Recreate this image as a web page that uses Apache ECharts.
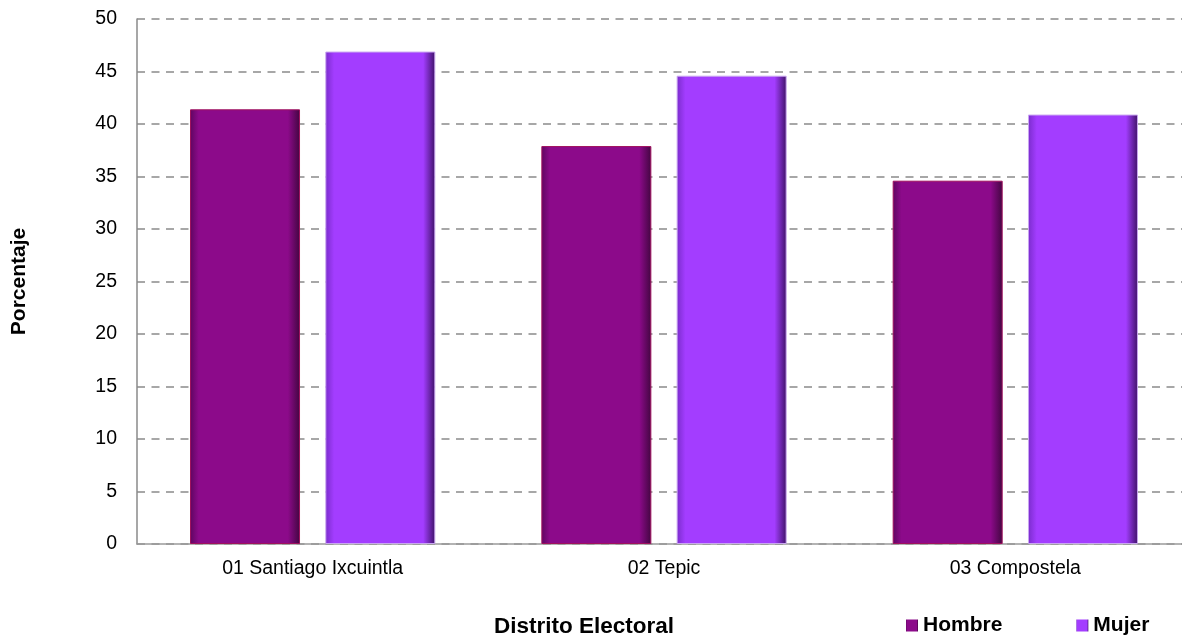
<!DOCTYPE html>
<html>
<head>
<meta charset="utf-8">
<script src="https://cdn.jsdelivr.net/npm/echarts@6/dist/echarts.min.js"></script>
<style>
html,body{margin:0;padding:0;background:#fff;}
#chart{width:1182px;height:639px;}
</style>
</head>
<body>
<div id="chart"></div>
<script>
var categories = ['01 Santiago Ixcuintla', '02 Tepic', '03 Compostela'];
var hombre = [41.4, 37.9, 34.6];
var mujer = [46.9, 44.6, 40.9];
var yTicks = [0, 5, 10, 15, 20, 25, 30, 35, 40, 45, 50];

function grad(left, mid, right) {
  return new echarts.graphic.LinearGradient(0, 0, 1, 0, [
    {offset: 0, color: left},
    {offset: 0.08, color: mid},
    {offset: 0.89, color: mid},
    {offset: 1, color: right}
  ]);
}

var chart = echarts.init(document.getElementById('chart'));
chart.setOption({
  animation: false,
  backgroundColor: '#fff',
  textStyle: {fontFamily: 'Liberation Sans, Arial, sans-serif'},
  grid: {left: 137, width: 1054, top: 19, height: 525, containLabel: false, outerBoundsMode: 'none'},
  legend: {
    left: 906, top: 615, padding: 0,
    itemWidth: 12, itemHeight: 12, itemGap: 74,
    icon: 'rect',
    itemStyle: {borderWidth: 0},
    textStyle: {fontSize: 21, fontWeight: 'bold', color: '#000'},
    data: ['Hombre', 'Mujer']
  },
  graphic: [{
    type: 'text', x: 584, y: 627,
    style: {text: 'Distrito Electoral', font: 'bold 22.5px Liberation Sans, Arial, sans-serif', fill: '#000',
      textAlign: 'center', textVerticalAlign: 'middle'}
  }],
  xAxis: {
    type: 'category',
    data: categories,
    axisLine: {lineStyle: {color: '#9a9a9a', width: 1.5}},
    axisTick: {show: false},
    axisLabel: {fontSize: 19.5, color: '#000', margin: 15}
  },
  yAxis: {
    type: 'value', min: 0, max: 50, interval: 5,
    name: 'Porcentaje', nameLocation: 'middle', nameGap: 107,
    nameTextStyle: {fontSize: 21, fontWeight: 'bold', color: '#000'},
    axisLine: {show: true, lineStyle: {color: '#8a8a8a', width: 1.5}},
    axisTick: {show: false},
    axisLabel: {fontSize: 19.5, color: '#000', margin: 20,
      formatter: function (v) { return yTicks.indexOf(v) >= 0 ? String(v) : ''; }},
    splitLine: {lineStyle: {color: '#8a8a8a', width: 1.6, type: [8, 6.5]}}
  },
  series: [
    {
      name: 'Hombre', type: 'bar', data: hombre,
      barWidth: 110, barGap: '23%',
      itemStyle: {
        color: grad('#5e0660', '#8c0a8a', '#420640'),
        borderColor: '#a0105e', borderWidth: 1
      }
    },
    {
      name: 'Mujer', type: 'bar', data: mujer,
      barWidth: 110,
      itemStyle: {
        color: grad('#7a2ccc', '#a33dff', '#3e1266'),
        borderColor: '#c9a6f0', borderWidth: 1
      }
    }
  ]
});
</script>
</body>
</html>
